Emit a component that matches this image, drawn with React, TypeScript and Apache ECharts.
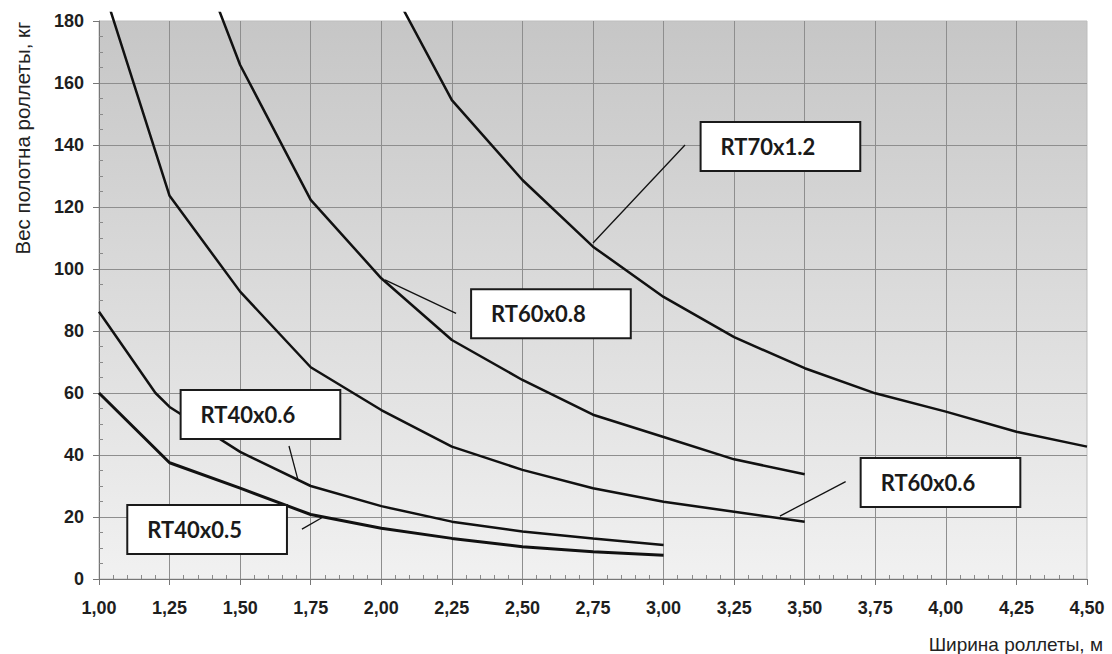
import React, { useEffect, useRef } from "react";
import * as echarts from "echarts";

// ---- data ----
const widthsRT70x12 = [2.0, 2.25, 2.5, 2.75, 3.0, 3.25, 3.5, 3.75, 4.0, 4.25, 4.5];
const weightsRT70x12 = [197, 154.5, 128.7, 107.2, 91, 78, 68, 59.9, 54, 47.5, 42.7];

const widthsRT60x08 = [1.25, 1.5, 1.75, 2.0, 2.25, 2.5, 2.75, 3.0, 3.25, 3.5];
const weightsRT60x08 = [225, 165.8, 122.3, 97, 77.1, 64.2, 53, 45.8, 38.6, 33.8];

const widthsRT60x06 = [1.0, 1.25, 1.5, 1.75, 2.0, 2.25, 2.5, 2.75, 3.0, 3.25, 3.5];
const weightsRT60x06 = [195, 123.6, 92.7, 68.3, 54.5, 42.7, 35.2, 29.3, 24.9, 21.7, 18.5];

const widthsRT40x06 = [1.0, 1.2, 1.25, 1.5, 1.75, 2.0, 2.25, 2.5, 2.75, 3.0];
const weightsRT40x06 = [86.2, 60, 55.5, 41, 30, 23.5, 18.5, 15.3, 13.1, 11];

const widthsRT40x05 = [1.0, 1.25, 1.5, 1.75, 2.0, 2.25, 2.5, 2.75, 3.0];
const weightsRT40x05 = [60, 37.5, 29.3, 20.8, 16.4, 13.1, 10.4, 8.8, 7.7];

const seriesNames = ["RT70x1.2", "RT60x0.8", "RT60x0.6", "RT40x0.6", "RT40x0.5"];
// annotation boxes (data coords of box centres) and leader lines
const labelCenters = [
  [3.414, 139.5],
  [2.601, 85.6],
  [3.981, 31.1],
  [1.572, 53.1],
  [1.383, 16.0],
];
const leaderStarts = [
  [3.076, 140.0],
  [2.265, 85.7],
  [3.645, 31.4],
  [1.673, 42.9],
  [1.719, 16.1],
];
const leaderEnds = [
  [2.75, 108.4],
  [2.013, 96.5],
  [3.412, 20.3],
  [1.705, 31.9],
  [1.794, 20.0],
];

const xTickMin = 1.0;
const xTickMax = 4.5;
const xTickStep = 0.25;
const yTickMin = 0;
const yTickMax = 180;
const yTickStep = 20;

const xName = "Ширина роллеты, м";
const yName = "Вес полотна роллеты, кг";

const pairs = (xs: number[], ys: number[]) => xs.map((x, i) => [x, ys[i]]);

const allSeriesData = [
  pairs(widthsRT70x12, weightsRT70x12),
  pairs(widthsRT60x08, weightsRT60x08),
  pairs(widthsRT60x06, weightsRT60x06),
  pairs(widthsRT40x06, weightsRT40x06),
  pairs(widthsRT40x05, weightsRT40x05),
];
const lineWidths = [2.5, 2.5, 2.5, 2.5, 3];

export default function App() {
  const ref = useRef<HTMLDivElement>(null);

  useEffect(() => {
    if (!ref.current) return;
    const chart = echarts.init(ref.current, undefined, { renderer: "svg" });

    const GL = 99;
    const GR = 25;
    const GB = 75;
    const GT = 21;
    const GT2 = 13;
    const pxPerUnit = (654 - GB - GT) / (yTickMax - yTickMin);
    const yMaxB = (654 - GB - GT2) / pxPerUnit;

    const tickFont = {
      fontFamily: "'Liberation Sans', Arial, sans-serif",
      fontWeight: "bold" as const,
      fontSize: 18,
      color: "#1e1e1e",
    };

    const series = allSeriesData.map((d, i) => ({
      type: "line",
      name: seriesNames[i],
      xAxisIndex: 1,
      yAxisIndex: 2,
      data: d,
      symbol: "none",
      clip: true,
      lineStyle: { color: "#111", width: lineWidths[i] },
      z: 3,
      markLine: {
        silent: true,
        symbol: ["none", "none"],
        label: { show: false },
        lineStyle: { color: "#111", width: 1.3, type: "solid" },
        data: [[{ coord: leaderStarts[i] }, { coord: leaderEnds[i] }]],
      },
      markPoint: {
        silent: true,
        symbol: "circle",
        symbolSize: 1,
        itemStyle: { color: "rgba(0,0,0,0)" },
        label: {
          show: true,
          position: "inside",
          formatter: "{b}",
          fontFamily: "Lato, 'Open Sans', sans-serif",
          fontWeight: "bold",
          fontSize: 22,
          lineHeight: 21,
          color: "#1a1a1a",
          backgroundColor: "#ffffff",
          borderColor: "#1a1a1a",
          borderWidth: 2,
          padding: [13, 44, 13, 19],
        },
        data: [{ name: seriesNames[i], coord: labelCenters[i] }],
      },
    }));

    chart.setOption({
      animation: false,
      backgroundColor: "#ffffff",
      grid: [
        {
          left: GL,
          right: GR,
          top: GT,
          bottom: GB,
          show: true,
          borderColor: "#bdbdbd",
          borderWidth: 1,
          backgroundColor: new echarts.graphic.LinearGradient(0, 0, 0, 1, [
            { offset: 0, color: "#c6c6c6" },
            { offset: 1, color: "#f1f1f1" },
          ]),
          containLabel: false,
          outerBoundsMode: "none",
        },
        {
          left: GL,
          right: GR,
          top: GT2,
          bottom: GB,
          show: false,
          containLabel: false,
          outerBoundsMode: "none",
        },
      ],
      xAxis: [
        {
          gridIndex: 0,
          type: "value",
          min: xTickMin,
          max: xTickMax,
          interval: xTickStep,
          axisLine: { show: true, lineStyle: { color: "#777", width: 1 } },
          axisTick: { show: true, inside: false, length: 6, lineStyle: { color: "#777" } },
          axisLabel: {
            ...tickFont,
            margin: 20,
            showMinLabel: true,
            showMaxLabel: true,
            formatter: (v: number) => v.toFixed(2).replace(".", ","),
          },
          splitLine: {
            show: true,
            showMinLine: false,
            showMaxLine: false,
            lineStyle: { color: "#8e8e8e", width: 1 },
          },
        },
        {
          gridIndex: 1,
          type: "value",
          min: xTickMin,
          max: xTickMax,
          interval: xTickStep,
          axisLine: { show: false },
          axisTick: { show: false, inside: true },
          axisLabel: { show: false },
          splitLine: { show: false },
          minorTick: { show: true, splitNumber: 5, length: 4, lineStyle: { color: "#8a8a8a" } },
        },
      ],
      yAxis: [
        {
          gridIndex: 0,
          type: "value",
          min: yTickMin,
          max: yTickMax,
          interval: yTickStep,
          axisLine: { show: true, lineStyle: { color: "#777", width: 1 } },
          axisTick: { show: true, inside: false, length: 6, lineStyle: { color: "#777" } },
          axisLabel: { ...tickFont, margin: 15 },
          splitLine: {
            show: true,
            showMinLine: false,
            showMaxLine: false,
            lineStyle: { color: "#8e8e8e", width: 1 },
          },
        },
        {
          gridIndex: 0,
          type: "value",
          position: "left",
          min: yTickMin,
          max: yTickMax,
          interval: yTickStep,
          axisLine: { show: false },
          axisTick: { show: false, inside: true },
          axisLabel: { show: false },
          splitLine: { show: false },
          minorTick: { show: true, splitNumber: 4, length: 4, lineStyle: { color: "#8a8a8a" } },
        },
        {
          gridIndex: 1,
          type: "value",
          min: 0,
          max: yMaxB,
          show: false,
        },
      ],
      graphic: [
        {
          type: "text",
          x: 1103,
          y: 644,
          style: {
            text: xName,
            fontFamily: "'Liberation Sans', Arial, sans-serif",
            fontSize: 19,
            fill: "#222",
            textAlign: "right",
            textVerticalAlign: "middle",
          },
        },
        {
          type: "text",
          x: 22,
          y: 138,
          rotation: Math.PI / 2,
          style: {
            text: yName,
            fontFamily: "'Liberation Sans', Arial, sans-serif",
            fontSize: 20.5,
            fill: "#222",
            textAlign: "center",
            textVerticalAlign: "middle",
          },
        },
      ],
      series,
    });

    return () => chart.dispose();
  }, []);

  return (
    <div
      ref={ref}
      style={{ position: "fixed", left: 0, top: 0, width: 1112, height: 654 }}
    />
  );
}
